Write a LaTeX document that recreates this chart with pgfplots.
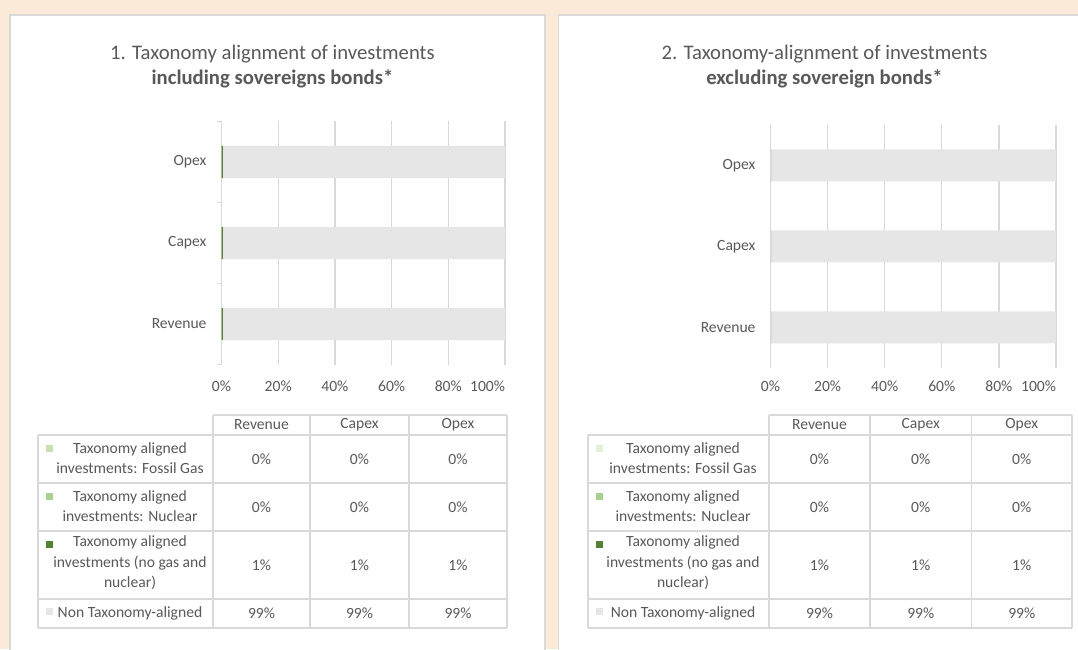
\documentclass[border=0pt]{standalone}
\usepackage{pgfplots}
\pgfplotsset{compat=1.18}
\usepackage{fontspec}
\setmainfont{Carlito}
\definecolor{peach}{HTML}{FBEAD8}
\definecolor{bgrey}{HTML}{D9D9D9}
\definecolor{tgrey}{HTML}{595959}
\definecolor{bargrey}{HTML}{E7E6E6}
\definecolor{dgreen}{HTML}{548235}
\definecolor{nucl}{HTML}{A9D18E}
\definecolor{gasA}{HTML}{C5E0B4}
\definecolor{gasB}{HTML}{E2F0D9}
\newcommand{\tfont}{\fontsize{15.6}{20.5}\selectfont}
\newcommand{\hfont}{\fontsize{20.7}{24}\selectfont}
\pgfplotsset{
  mychart/.style={
    scale only axis, xbar stacked, bar width=32pt,
    xmin=0, xmax=100, ymin=-0.5, ymax=2.5,
    xtick={0,20,40,60,80,100},
    xticklabels={0\%,20\%,40\%,60\%,80\%,\llap{100\%}},
    ytick={0,1,2}, yticklabels={Revenue,Capex,Opex},
    axis line style={draw=none},
    tick style={draw=none},
    xmajorgrids, grid style={draw=bgrey, line width=1.2pt},
    tick label style={font=\fontsize{15.6}{18}\selectfont, text=tgrey},
    yticklabel style={xshift=-11.5pt},
    clip=false,
    anchor=south west,
  }
}
% #1 label-left, #2 col1, #3 col2, #4 col3, #5 right, #6 label centre x, #7 gas colour
\newcommand{\dtable}[7]{%
  \draw[bgrey,line width=1.5pt] (#2,649-415) -- (#5,649-415);
  \foreach \yy in {435,483,531,599,628} {\draw[bgrey,line width=1.5pt] (#1,649-\yy) -- (#5,649-\yy);}
  \draw[bgrey,line width=1.5pt] (#1,649-435) -- (#1,649-628);
  \foreach \xx in {#2,#3,#4,#5} {\draw[bgrey,line width=1.5pt] (\xx,649-415) -- (\xx,649-628);}
  \pgfmathsetmacro{\ca}{(#2+#3)/2}%
  \pgfmathsetmacro{\cb}{(#3+#4)/2}%
  \pgfmathsetmacro{\cc}{(#4+#5)/2}%
  \begin{scope}[every node/.style={font=\tfont, text=tgrey, align=center, inner sep=0pt}]
  \node at (\ca,649-425) {Revenue};
  \node at (\cb,649-425) {Capex};
  \node at (\cc,649-425) {Opex};
  \foreach \cx in {\ca,\cb,\cc} {
    \node at (\cx,649-459) {0\%};
    \node at (\cx,649-507) {0\%};
    \node at (\cx,649-565) {1\%};
    \node at (\cx,649-613.5) {99\%};
  }
  \node at (#6,649-458) {Taxonomy aligned\\investments: Fossil Gas};
  \node at (#6,649-506) {Taxonomy aligned\\investments: Nuclear};
  \node at (#6,649-563) {Taxonomy aligned\\investments (no gas and\\nuclear)};
  \node at (#6,649-613.5) {Non Taxonomy-aligned};
  \end{scope}
  \fill[#7] ({#1+7.5},649-445) rectangle ++(7,-7);
  \fill[nucl] ({#1+7.5},649-493) rectangle ++(7,-7);
  \fill[dgreen] ({#1+7.5},649-540.5) rectangle ++(7,-7);
  \fill[bargrey] ({#1+7.5},649-608) rectangle ++(7,-7);
}
\begin{document}
\begin{tikzpicture}[x=1pt,y=1pt]
\useasboundingbox (0,0) rectangle (1078,649);
\fill[peach] (0,0) rectangle (1078,649);
\filldraw[fill=white,draw=bgrey,line width=1.5pt] (10,-10) rectangle (545,634);
\filldraw[fill=white,draw=bgrey,line width=1.5pt] (558.5,-10) rectangle (1090,634);

\node[anchor=base,font=\hfont,text=tgrey] at (272.5,649-60) {1. Taxonomy alignment of investments};
\node[anchor=base,font=\hfont\bfseries,text=tgrey] at (272.5,649-84.5) {including sovereigns bonds*};
\node[anchor=base,font=\hfont,text=tgrey] at (824.5,649-60) {2. Taxonomy-alignment of investments};
\node[anchor=base,font=\hfont\bfseries,text=tgrey] at (824.5,649-84.5) {excluding sovereign bonds*};

% Chart 1
\begin{axis}[mychart, at={(221.5pt,284.5pt)}, width=283.5pt, height=243pt,
  xticklabel style={yshift=-12.5pt}]
\addplot[fill=gasA, draw=none] coordinates {(0,0) (0,1) (0,2)};
\addplot[fill=nucl, draw=none] coordinates {(0,0) (0,1) (0,2)};
\addplot[fill=dgreen, draw=none] coordinates {(0.5,0) (0.5,1) (0.5,2)};
\addplot[fill=bargrey, draw=none] coordinates {(99.5,0) (99.5,1) (99.5,2)};
\foreach \t in {-0.5,0.5,1.5,2.5} {
  \edef\tmp{\noexpand\draw[bgrey,line width=1.2pt] (axis cs:0,\t) -- ++(-5pt,0pt);}\tmp
}
\end{axis}

% Chart 2
\begin{axis}[mychart, at={(770.5pt,281.2pt)}, width=285.5pt, height=243pt,
  xticklabel style={yshift=-9.5pt}]
\addplot[fill=gasB, draw=none] coordinates {(0,0) (0,1) (0,2)};
\addplot[fill=nucl, draw=none] coordinates {(0,0) (0,1) (0,2)};
\addplot[fill=bgrey, draw=none] coordinates {(0.5,0) (0.5,1) (0.5,2)};
\addplot[fill=bargrey, draw=none] coordinates {(99.5,0) (99.5,1) (99.5,2)};
\end{axis}

\dtable{38}{213}{310}{409}{507}{130}{gasA}
\dtable{588}{769}{870}{971.5}{1072}{683}{gasB}
\end{tikzpicture}
\end{document}
